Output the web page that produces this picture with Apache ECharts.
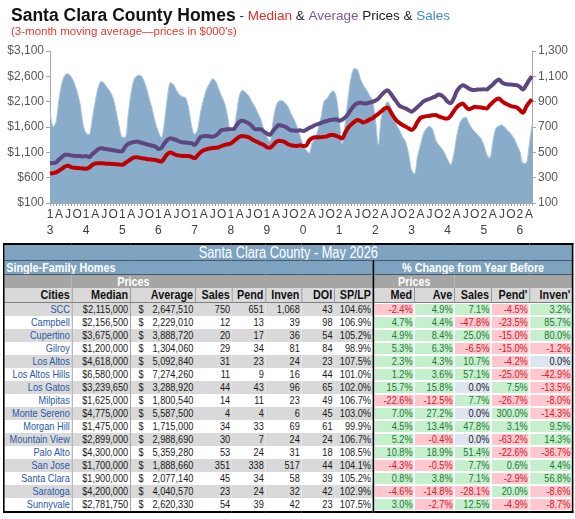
<!DOCTYPE html>
<html lang="en">
  <head>
    <meta charset="UTF-8" />
    <title>Santa Clara County Homes</title>
    <script src="https://cdn.jsdelivr.net/npm/echarts@6/dist/echarts.min.js"></script>
    <style>
      body {
        margin: 0;
        background: #fff;
        width: 575px;
        height: 519px;
        position: relative;
        overflow: hidden;
        font-family: "Liberation Sans", Arial, sans-serif;
      }
      #chart {
        position: absolute;
        left: 0;
        top: 0;
        width: 575px;
        height: 240px;
      }
      /* the table is laid out wider and squeezed horizontally, like the narrow font of the original */
      table {
        position: absolute;
        left: 3px;
        top: 243px;
        width: 711px;
        transform: scaleX(0.8);
        transform-origin: 0 0;
        border-collapse: collapse;
        table-layout: fixed;
        border: 2px solid #000;
        font-family: "Liberation Sans", Arial, sans-serif;
        font-size: 11.5px;
        color: #1a1a1a;
      }
      td {
        padding: 0 2px;
        white-space: nowrap;
        overflow: hidden;
        text-align: right;
        line-height: 13px;
        height: 13px;
      }
      .ttl {
        background: #7da3c0;
        color: #fff;
        text-align: center;
        font-size: 16px;
        line-height: 15px;
        height: 15px;
        border-bottom: 1px solid #46596a;
      }
      .blue {
        background: #7da3c0;
        color: #fff;
        font-weight: bold;
        font-size: 13.5px;
        border-bottom: 1px solid #46596a;
      }
      .gray {
        background: #a5a5a5;
        color: #fff;
        font-weight: bold;
        font-size: 13.5px;
      }
      .hdr td {
        background: #d9d9d9;
        font-weight: bold;
        font-size: 13.5px;
        color: #111;
        height: 14px;
        line-height: 14px;
        border-right: 1px solid #7f7f7f;
        border-bottom: 1px solid #7f7f7f;
      }
      .split {
        border-left: 2px solid #000 !important;
      }
      .odd td {
        background: #d9d9d9;
      }
      .city {
        color: #2a58a8;
        border-right: 1px solid #8c8c8c;
      }
      .med {
        border-right: 1px solid #8c8c8c;
      }
      .pos {
        background: #c6efce !important;
        color: #1e7a2e;
        box-shadow: inset 0 0 0 1px #fff;
      }
      .neg {
        background: #ffc7ce !important;
        color: #d0202a;
        box-shadow: inset 0 0 0 1px #fff;
      }
      .zero {
        background: #dce6f1 !important;
        color: #1a1a1a;
        box-shadow: inset 0 0 0 1px #fff;
      }
    </style>
  </head>
  <body>
    <div id="chart"></div>
    <table id="tbl">
      <colgroup>
        <col style="width: 85px" />
        <col style="width: 73px" />
        <col style="width: 81px" />
        <col style="width: 46px" />
        <col style="width: 42px" />
        <col style="width: 45px" />
        <col style="width: 41px" />
        <col style="width: 49px" />
        <col style="width: 51px" />
        <col style="width: 50px" />
        <col style="width: 46px" />
        <col style="width: 48px" />
        <col style="width: 54px" />
      </colgroup>
      <tbody id="tbody"></tbody>
    </table>
    <script type="text/javascript">
      // ---- chart data (3-month moving averages, prices in $000's) ----
      const years = [2013, 2014, 2015, 2016, 2017, 2018, 2019, 2020, 2021, 2022, 2023, 2024, 2025, 2026];
      const lastMonth = 5; // data through May 2026
      const monthLetters = ["", "", "", "A", "", "", "J", "", "", "O", "", ""];

      const salesData = [
        834, 700, 740, 920, 1050, 1110, 1120, 1096, 1050, 980, 880, 720,
        650, 640, 760, 900, 1010, 1060, 1045, 1010, 978, 925, 820, 700,
        620, 620, 807, 980, 1080, 1105, 1109, 1075, 1010, 920, 834, 730,
        660, 615, 740, 938, 1050, 1035, 990, 955, 938, 930, 850, 710,
        640, 680, 820, 920, 1000, 1043, 1080, 1060, 1000, 940, 886, 780,
        660, 680, 820, 960, 991, 970, 945, 900, 860, 810, 760, 680,
        625, 585, 740, 860, 905, 907, 890, 860, 807, 760, 703, 630,
        558, 519, 493, 572, 610, 680, 780, 905, 925, 965, 985, 940,
        760, 565, 729, 938, 1096, 1161, 1153, 1083, 1030, 996, 951, 912,
        768, 559, 781, 847, 899, 865, 776, 716, 676, 624, 585, 493,
        362, 330, 467, 558, 650, 690, 703, 682, 598, 559, 532, 493,
        441, 401, 480, 624, 729, 768, 776, 734, 690, 663, 637, 611,
        559, 480, 454, 585, 690, 708, 716, 697, 671, 645, 611, 559,
        506, 414, 414, 545, 716,
      ];
      const averageData = [
        886, 890, 899, 960, 1010, 1050, 1050, 1040, 1030, 1030, 1025, 1017,
        1030, 1005, 1060, 1110, 1160, 1181, 1170, 1160, 1150, 1140, 1130, 1120,
        1125, 1214, 1270, 1292, 1305, 1312, 1295, 1279, 1260, 1246, 1230, 1214,
        1165, 1190, 1280, 1345, 1377, 1360, 1340, 1310, 1299, 1292, 1285, 1279,
        1246, 1320, 1405, 1420, 1423, 1415, 1410, 1430, 1480, 1541, 1548, 1554,
        1554, 1560, 1640, 1710, 1724, 1700, 1672, 1620, 1560, 1554, 1554, 1510,
        1470, 1443, 1520, 1590, 1639, 1625, 1607, 1570, 1535, 1530, 1528, 1535,
        1521, 1541, 1580, 1607, 1640, 1659, 1680, 1705, 1720, 1738, 1745, 1751,
        1724, 1745, 1790, 1860, 1950, 2025, 2065, 2078, 2070, 2065, 2080, 2098,
        2120, 2160, 2230, 2290, 2327, 2265, 2180, 2100, 2020, 1990, 1967, 1935,
        1901, 1940, 1995, 2050, 2105, 2135, 2155, 2180, 2205, 2240, 2220, 2170,
        2100, 2070, 2160, 2300, 2380, 2425, 2400, 2360, 2335, 2330, 2340, 2340,
        2345, 2340, 2390, 2440, 2500, 2537, 2480, 2450, 2440, 2438, 2430, 2425,
        2390, 2340, 2420, 2520, 2600,
      ];
      const medianData = [
        676, 690, 703, 740, 780, 821, 834, 810, 794, 790, 788, 780,
        775, 800, 850, 880, 886, 886, 880, 876, 873, 870, 866, 860,
        853, 890, 932, 970, 1000, 1004, 990, 980, 970, 962, 955, 950,
        930, 919, 990, 1069, 1096, 1070, 1045, 1035, 1030, 1030, 1030, 1010,
        984, 1040, 1100, 1140, 1160, 1175, 1185, 1190, 1200, 1225, 1246, 1260,
        1275, 1320, 1370, 1410, 1423, 1410, 1395, 1360, 1325, 1300, 1270, 1246,
        1200, 1190, 1240, 1300, 1331, 1320, 1300, 1260, 1240, 1230, 1227, 1240,
        1225, 1230, 1330, 1380, 1397, 1397, 1400, 1405, 1415, 1440, 1440, 1423,
        1400, 1377, 1490, 1590, 1650, 1700, 1738, 1720, 1690, 1710, 1745, 1770,
        1816, 1860, 1910, 1960, 1986, 1910, 1810, 1730, 1680, 1640, 1610, 1575,
        1541, 1590, 1700, 1780, 1800, 1815, 1820, 1830, 1836, 1810, 1790, 1770,
        1770, 1820, 1910, 1990, 2040, 2065, 2000, 1950, 1970, 2000, 1990, 1985,
        1975, 1967, 2030, 2090, 2140, 2163, 2110, 2070, 2040, 2013, 2000, 1986,
        1930, 1882, 1990, 2080, 2144,
      ];

      // ---- table data (May 2026) ----
      const cities = ["SCC", "Campbell", "Cupertino", "Gilroy", "Los Altos", "Los Altos Hills", "Los Gatos", "Milpitas",
        "Monte Sereno", "Morgan Hill", "Mountain View", "Palo Alto", "San Jose", "Santa Clara", "Saratoga", "Sunnyvale"];
      const medianPrice = [2115000, 2156500, 3675000, 1200000, 4618000, 6580000, 3239650, 1625000,
        4775000, 1475000, 2899000, 4300000, 1700000, 1900000, 4200000, 2781750];
      const averagePrice = [2647510, 2229010, 3888720, 1304060, 5092840, 7274260, 3288920, 1800540,
        5587500, 1715000, 2988690, 5359280, 1888660, 2077140, 4040570, 2620330];
      const sales = [750, 12, 20, 29, 31, 11, 44, 14, 4, 34, 30, 53, 351, 45, 23, 54];
      const pend = [651, 13, 17, 34, 23, 9, 43, 11, 4, 33, 7, 24, 338, 34, 24, 39];
      const inven = [1068, 39, 36, 81, 24, 16, 96, 23, 6, 69, 24, 31, 517, 58, 32, 42];
      const doi = [43, 98, 54, 84, 23, 44, 65, 49, 45, 61, 24, 18, 44, 39, 42, 23];
      const spLp = [104.6, 106.9, 105.2, 98.9, 107.5, 101.0, 102.0, 106.7, 103.0, 99.9, 106.7, 108.5, 104.1, 105.2, 102.9, 107.5];
      const chgMed = [-2.4, 4.7, 4.9, 5.3, 2.3, 1.2, 15.7, -22.6, 7.0, 4.5, 5.2, 10.8, -4.3, 0.8, -4.6, 3.0];
      const chgAve = [4.9, 4.4, 8.4, 6.3, 4.3, 3.6, 15.8, -12.5, 27.2, 13.4, -0.4, 18.9, -0.5, 3.8, -14.8, -2.7];
      const chgSales = [7.1, -47.8, 25.0, -6.5, 10.7, 57.1, 0.0, 7.7, 0.0, 47.8, 0.0, 51.4, 7.7, 7.1, -28.1, 12.5];
      const chgPend = [-4.5, -23.5, -15.0, -15.0, -4.2, -25.0, 7.5, -26.7, 300.0, 3.1, -63.2, -22.6, 0.6, -2.9, 20.0, -4.9];
      const chgInven = [3.2, 85.7, 80.0, -1.2, 0.0, -42.9, -13.5, -8.0, -14.3, 9.5, 14.3, -36.7, 4.4, 56.8, -8.6, -8.7];

      // month categories
      const months = [];
      years.forEach((y) => {
        const n = y === years[years.length - 1] ? lastMonth : 12;
        for (let m = 0; m < n; m++) months.push(y + "-" + (m + 1));
      });

      const myChart = echarts.init(document.getElementById("chart"));
      const axisGray = "#a6a6a6";
      const labelGray = "#595959";
      const sansFont = "Liberation Sans";

      const option = {
        animation: false,
        title: [
          {
            left: 6,
            top: 2,
            text: "{a|Santa Clara County Homes}{b| - }{r|Median}{b| & }{p|Average}{b| Prices & }{s|Sales}",
            textStyle: {
              rich: {
                a: { fontSize: 17.5, fontWeight: "bold", color: "#111", fontFamily: sansFont },
                b: { fontSize: 13.5, fontWeight: "normal", color: "#222", fontFamily: sansFont },
                r: { fontSize: 13.5, fontWeight: "normal", color: "#e0302a", fontFamily: sansFont },
                p: { fontSize: 13.5, fontWeight: "normal", color: "#7a5a9e", fontFamily: sansFont },
                s: { fontSize: 13.5, fontWeight: "normal", color: "#3b8ed8", fontFamily: sansFont },
              },
            },
          },
          {
            left: 6,
            top: 21,
            text: "(3-month moving average\u2014prices in $000's)",
            textStyle: { fontSize: 11.5, fontWeight: "normal", color: "#e8382e", fontFamily: sansFont },
          },
        ],
        grid: { left: 50, right: 43, top: 51, bottom: 37 },
        xAxis: {
          type: "category",
          data: months,
          boundaryGap: false,
          axisLine: { lineStyle: { color: axisGray } },
          axisTick: { show: true, interval: 0, length: 3, lineStyle: { color: axisGray } },
          axisLabel: {
            interval: 2,
            margin: 4,
            fontSize: 12,
            lineHeight: 16,
            color: "#404040",
            fontFamily: sansFont,
            formatter: (value) => {
              const [y, m] = value.split("-").map(Number);
              if (m === 1) return String(y).charAt(2) + "\n" + String(y).charAt(3);
              return monthLetters[m - 1];
            },
          },
        },
        yAxis: [
          {
            type: "value",
            min: 100,
            max: 3100,
            interval: 500,
            splitLine: { show: false },
            axisLine: { show: true, lineStyle: { color: axisGray } },
            axisTick: { show: true, length: 4, lineStyle: { color: axisGray } },
            axisLabel: {
              margin: 6,
              fontSize: 12,
              color: labelGray,
              fontFamily: sansFont,
              formatter: (v) => "$" + v.toLocaleString("en-US"),
            },
          },
          {
            type: "value",
            position: "right",
            min: 100,
            max: 1300,
            interval: 200,
            splitLine: { show: false },
            axisLine: { show: true, lineStyle: { color: axisGray } },
            axisTick: { show: true, length: 4, lineStyle: { color: axisGray } },
            axisLabel: {
              margin: 6,
              fontSize: 12,
              color: labelGray,
              fontFamily: sansFont,
              formatter: (v) => v.toLocaleString("en-US"),
            },
          },
        ],
        series: [
          {
            name: "Sales",
            type: "line",
            yAxisIndex: 1,
            data: salesData,
            symbol: "none",
            smooth: 0.3,
            lineStyle: { width: 1, color: "#a9c6dc" },
            areaStyle: { color: "#88acc9", opacity: 1 },
            z: 1,
          },
          {
            name: "Average",
            type: "line",
            data: averageData,
            symbol: "none",
            smooth: 0.3,
            lineStyle: { width: 4, color: "#5e4680" },
            z: 3,
          },
          {
            name: "Median",
            type: "line",
            data: medianData,
            symbol: "none",
            smooth: 0.3,
            lineStyle: { width: 4, color: "#c00000" },
            z: 4,
          },
        ],
      };
      myChart.setOption(option);

      // ---- table ----
      const fmt = (n) => n.toLocaleString("en-US");
      const pct = (v, extra) => {
        const cls = v > 0 ? "pos" : v < 0 ? "neg" : "zero";
        return '<td class="' + cls + (extra ? " " + extra : "") + '">' + v.toFixed(1) + "%</td>";
      };
      let html = "";
      html += '<tr><td colspan="13" class="ttl">Santa Clara County - May 2026</td></tr>';
      html += '<tr><td colspan="8" class="blue" style="text-align:left">Single-Family Homes</td>' +
        '<td colspan="5" class="blue split" style="text-align:center">% Change from Year Before</td></tr>';
      html += '<tr><td class="gray"></td><td colspan="2" class="gray" style="text-align:center">Prices</td>' +
        '<td colspan="5" class="gray"></td><td colspan="2" class="gray split" style="text-align:center">Prices</td>' +
        '<td colspan="3" class="gray"></td></tr>';
      const heads = ["Cities", "Median", "Average", "Sales", "Pend", "Inven", "DOI", "SP/LP", "Med", "Ave", "Sales", "Pend'", "Inven'"];
      html += '<tr class="hdr">' + heads.map((h, i) => "<td" + (i === 8 ? ' class="split"' : "") + ">" + h + "</td>").join("") + "</tr>";
      cities.forEach((c, i) => {
        html += '<tr class="' + (i % 2 === 0 ? "odd" : "even") + '">' +
          '<td class="city">' + c + "</td>" +
          '<td class="med">$' + fmt(medianPrice[i]) + "</td>" +
          '<td><span style="float:left;padding-left:8px">$</span>' + fmt(averagePrice[i]) + "</td>" +
          "<td>" + sales[i] + "</td>" +
          "<td>" + pend[i] + "</td>" +
          "<td>" + fmt(inven[i]) + "</td>" +
          "<td>" + doi[i] + "</td>" +
          "<td>" + spLp[i].toFixed(1) + "%</td>" +
          pct(chgMed[i], "split") + pct(chgAve[i]) + pct(chgSales[i]) + pct(chgPend[i]) + pct(chgInven[i]) +
          "</tr>";
      });
      document.getElementById("tbody").innerHTML = html;
    </script>
  </body>
</html>
